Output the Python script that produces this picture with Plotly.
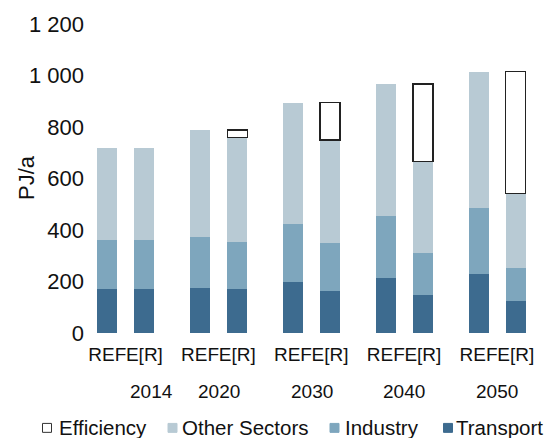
import plotly.graph_objects as go

# PJ/a by sector, REF vs E[R] scenario
years = ["2014", "2020", "2030", "2040", "2050"]
scenarios = ["REF", "E[R]"]

transport_ref = [172, 176, 197, 214, 229]
transport_er = [172, 171, 165, 147, 125]
industry_ref = [189, 195, 225, 242, 257]
industry_er = [189, 181, 185, 163, 128]
other_ref = [357, 419, 473, 511, 529]
other_er = [357, 407, 400, 355, 289]
efficiency_er = [0, 30, 144, 302, 473]

y_ticks = [0, 200, 400, 600, 800, 1000, 1200]
y_ticktext = ["0", "200", "400", "600", "800", "1 000", "1 200"]

# each year group takes 2.5 slots: REF, E[R], gap
ref_x = [i * 2.5 for i in range(len(years))]
er_x = [i * 2.5 + 1 for i in range(len(years))]
year_x = [1.2, 3.0, 5.5, 8.0, 10.5]  # where the year labels sit

FONT = "Liberation Sans, Arial, sans-serif"
TXT = "#111"
bar_w = 0.54

# plot area in pixels (used to place the hand-made legend)
W, H = 555, 438
ML, MR, MT, MB = 85, 17, 22, 105
PW, PH = W - ML - MR, H - MT - MB


def px_x(p):
    return (p - ML) / PW


def px_y(p):
    return (H - MB - p) / PH


fig = go.Figure()

series = [
    ("Transport", transport_ref, transport_er, "#3d6b8f"),
    ("Industry", industry_ref, industry_er, "#7ea6bd"),
    ("Other Sectors", other_ref, other_er, "#b8cad4"),
]
for name, ref, er, col in series:
    fig.add_trace(go.Bar(
        x=ref_x + er_x, y=ref + er, name=name, width=bar_w,
        marker=dict(color=col, line=dict(width=0)),
    ))

fig.add_trace(go.Bar(
    x=er_x, y=[v if v else None for v in efficiency_er], name="Efficiency",
    width=bar_w,
    marker=dict(color="white", line=dict(color="#222", width=1.4)),
))

for yr, xp in zip(years, year_x):
    fig.add_annotation(x=xp, y=0, xref="x", yref="paper", text=yr,
                       showarrow=False, yanchor="top", yshift=-46,
                       font=dict(size=19, color=TXT))

# y title
fig.add_annotation(x=px_x(26), y=px_y(177), xref="paper", yref="paper",
                   text="PJ/a", textangle=-90, showarrow=False,
                   xanchor="center", yanchor="middle",
                   font=dict(size=22, color=TXT))

# legend drawn by hand: small squares right next to the labels
legend_items = [
    ("Efficiency", 42.5, 59, "white", "#333"),
    ("Other Sectors", 168, 182, "#b8cad4", "#b8cad4"),
    ("Industry", 330, 345, "#7ea6bd", "#7ea6bd"),
    ("Transport", 443.5, 456, "#3d6b8f", "#3d6b8f"),
]
for label, sq, tx, fill, edge in legend_items:
    fig.add_shape(type="rect", xref="paper", yref="paper",
                  x0=px_x(sq), x1=px_x(sq + 9), y0=px_y(433), y1=px_y(424),
                  fillcolor=fill, line=dict(color=edge, width=1))
    fig.add_annotation(x=px_x(tx - 2), y=px_y(428), xref="paper", yref="paper",
                       text=label, showarrow=False, xanchor="left",
                       yanchor="middle", font=dict(size=20.5, color=TXT))

fig.update_xaxes(
    range=[-0.6, 11.6], tickvals=ref_x + er_x,
    ticktext=[scenarios[0]] * len(years) + [scenarios[1]] * len(years),
    showgrid=False, zeroline=False, showline=False,
    tickfont=dict(size=19, color=TXT), ticklabelstandoff=8,
)
fig.update_yaxes(
    range=[0, 1200], tickvals=y_ticks, ticktext=y_ticktext,
    showgrid=False, zeroline=False, showline=False,
    tickfont=dict(size=22, color=TXT),
)

fig.update_layout(
    barmode="stack",
    width=W, height=H,
    margin=dict(l=ML, r=MR, t=MT, b=MB),
    plot_bgcolor="white", paper_bgcolor="white",
    font=dict(family=FONT, size=19, color=TXT),
    showlegend=False,
)

# the page's default body margin would shift the figure by 8 px
fig.write_html("out.html", config={"displayModeBar": False},
               post_script="document.body.style.margin='0';"
                           "document.body.style.overflow='hidden';")
